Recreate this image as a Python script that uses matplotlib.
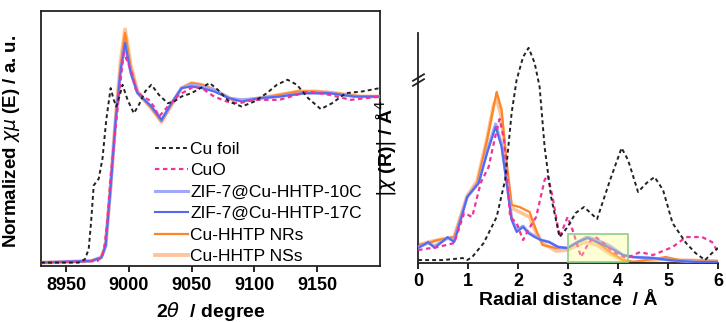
import matplotlib
matplotlib.use("Agg")
import matplotlib.pyplot as plt
from matplotlib.patches import Rectangle

plt.rcParams['font.family'] = ['Liberation Sans', 'DejaVu Sans']
plt.rcParams['mathtext.fontset'] = 'dejavusans'

# ---- XANES (left) ----
xanes_labels = ["Cu foil", "CuO", "ZIF-7@Cu-HHTP-10C", "ZIF-7@Cu-HHTP-17C",
                "Cu-HHTP NRs", "Cu-HHTP NSs"]

foil_e = [8930, 8960, 8965, 8968, 8970, 8972, 8976, 8979, 8982, 8985.5, 8988, 8990,
          8992.5, 8995, 8999, 9004, 9008, 9013, 9018, 9024, 9031, 9036, 9042, 9050,
          9057, 9064.5, 9071, 9080, 9090, 9100, 9110, 9118, 9126.5, 9134, 9143, 9153,
          9162, 9173, 9186, 9200]
foil_mu = [0.0, 0.0, 0.02, 0.08, 0.25, 0.46, 0.5, 0.62, 0.85, 1.04, 0.97, 0.93,
           0.99, 1.06, 0.97, 0.89, 0.94, 1.02, 1.06, 1.0, 0.95, 0.96, 0.99, 1.01,
           1.04, 1.07, 1.03, 0.96, 0.93, 0.96, 1.01, 1.06, 1.09, 1.06, 0.98, 0.915,
           0.95, 1.01, 1.02, 1.04]

cuo_e = [8930, 8975, 8979, 8981, 8983, 8985.5, 8989.5, 8993.5, 8996, 9001.6, 9005.6,
         9011, 9016, 9020, 9024, 9031, 9040, 9052, 9060, 9068, 9078, 9088, 9100,
         9120, 9143, 9160, 9177, 9200]
cuo_mu = [0.0, 0.01, 0.04, 0.12, 0.26, 0.51, 0.81, 1.09, 1.25, 1.15, 1.03,
          0.99, 0.97, 0.93, 0.87, 0.93, 1.0, 1.05, 1.03, 0.99, 0.96, 0.95, 0.97,
          0.97, 1.02, 1.0, 0.97, 0.99]

zif_e = [8930, 8970, 8978, 8981.5, 8985.5, 8989.5, 8993.5, 8997, 9001.6, 9007, 9011,
         9018, 9026, 9034, 9042, 9050, 9058, 9068, 9080, 9090, 9104, 9120, 9140,
         9160, 9180, 9200]
zif10_mu = [0.0, 0.01, 0.03, 0.1, 0.45, 0.85, 1.15, 1.30, 1.13, 1.01, 0.98,
            0.93, 0.85, 0.95, 1.04, 1.06, 1.05, 1.03, 0.98, 0.97, 0.98, 0.99, 1.01,
            1.01, 0.99, 0.99]
zif17_mu = [0.0, 0.01, 0.03, 0.1, 0.45, 0.85, 1.15, 1.31, 1.13, 1.01, 0.98,
            0.93, 0.85, 0.95, 1.04, 1.05, 1.04, 1.02, 0.98, 0.96, 0.98, 0.99, 1.01,
            1.01, 0.99, 0.99]

hhtp_e = [8930, 8970, 8978, 8981.5, 8985.5, 8989.5, 8993.5, 8997, 9001.6, 9007, 9011,
          9018, 9026, 9034, 9042, 9050, 9058, 9068, 9083, 9095, 9104, 9120, 9135,
          9150, 9165, 9185, 9200]
nrs_mu = [0.0, 0.01, 0.03, 0.1, 0.46, 0.86, 1.18, 1.37, 1.16, 1.02, 0.98,
          0.92, 0.84, 0.94, 1.04, 1.07, 1.06, 1.03, 0.97, 0.97, 0.98, 1.0, 1.02,
          1.02, 1.01, 0.99, 0.99]
nss_mu = [0.0, 0.01, 0.03, 0.1, 0.46, 0.86, 1.2, 1.39, 1.17, 1.02, 0.98,
          0.92, 0.84, 0.94, 1.04, 1.07, 1.06, 1.03, 0.97, 0.97, 0.98, 1.0, 1.02,
          1.02, 1.01, 0.99, 0.99]

# ---- FT-EXAFS (right) ----
foil_r = [0.0, 0.5, 0.89, 0.98, 1.08, 1.31, 1.57, 1.74, 1.87, 1.97, 2.1, 2.21, 2.33,
          2.43, 2.53, 2.66, 2.83, 2.99, 3.15, 3.32, 3.58, 3.84, 4.07, 4.2, 4.4, 4.57,
          4.73, 4.9, 5.09, 5.36, 5.55, 5.74, 5.88, 6.0]
foil_chi = [0.03, 0.03, 0.05, 0.03, 0.06, 0.2, 0.46, 0.83, 1.5, 1.83, 2.06, 2.15, 2.0,
            1.76, 1.16, 0.66, 0.26, 0.36, 0.5, 0.56, 0.44, 0.83, 1.15, 1.03, 0.71, 0.8,
            0.86, 0.73, 0.4, 0.2, 0.1, 0.03, 0.1, 0.15]

cuo_r = [0.0, 0.39, 0.72, 0.92, 1.08, 1.25, 1.41, 1.54, 1.63, 1.72, 1.84, 1.97, 2.1,
         2.2, 2.36, 2.53, 2.59, 2.69, 2.83, 2.99, 3.09, 3.26, 3.42, 3.55, 3.71, 3.9,
         4.17, 4.44, 4.7, 5.09, 5.36, 5.68, 5.88, 6.0]
cuo_chi = [0.13, 0.16, 0.2, 0.5, 0.46, 0.8, 0.96, 1.26, 1.44, 1.23, 0.46, 0.4, 0.23,
           0.33, 0.46, 0.83, 0.88, 0.66, 0.26, 0.46, 0.33, 0.06, 0.21, 0.26, 0.2, 0.11,
           0.05, 0.11, 0.08, 0.16, 0.26, 0.26, 0.21, 0.11]

zif_r = [0.0, 0.2, 0.33, 0.59, 0.72, 0.85, 0.98, 1.21, 1.38, 1.55, 1.67, 1.77, 1.87,
         1.97, 2.1, 2.2, 2.33, 2.46, 2.62, 2.8, 2.99, 3.19, 3.39, 3.58, 3.84, 4.1,
         4.3, 4.7, 5.03, 5.55, 6.0]
zif10_chi = [0.16, 0.2, 0.17, 0.25, 0.22, 0.44, 0.66, 0.8, 1.12, 1.39, 1.18, 0.82,
             0.45, 0.33, 0.37, 0.31, 0.27, 0.23, 0.21, 0.16, 0.15, 0.21, 0.26, 0.23,
             0.17, 0.08, 0.06, 0.05, 0.03, 0.01, 0.01]
zif17_chi = [0.15, 0.21, 0.15, 0.26, 0.21, 0.43, 0.66, 0.8, 1.1, 1.36, 1.16, 0.8,
             0.43, 0.31, 0.36, 0.3, 0.26, 0.23, 0.21, 0.16, 0.15, 0.21, 0.25, 0.21,
             0.15, 0.08, 0.06, 0.05, 0.03, 0.01, 0.01]

hhtp_r = [0.0, 0.2, 0.39, 0.72, 0.85, 0.98, 1.18, 1.38, 1.51, 1.57, 1.67, 1.77, 1.87,
          2.03, 2.23, 2.36, 2.49, 2.76, 2.99, 3.19, 3.36, 3.58, 3.84, 4.1, 4.3, 4.7,
          4.96, 5.22, 6.0]
nrs_chi = [0.18, 0.2, 0.23, 0.26, 0.46, 0.66, 0.8, 1.23, 1.56, 1.71, 1.53, 1.0, 0.58,
           0.56, 0.51, 0.33, 0.18, 0.15, 0.15, 0.21, 0.26, 0.21, 0.11, 0.03, 0.01,
           0.04, 0.06, 0.03, 0.02]
nss_chi = [0.18, 0.21, 0.23, 0.26, 0.47, 0.67, 0.82, 1.25, 1.58, 1.64, 1.45, 0.95, 0.55,
           0.51, 0.46, 0.3, 0.2, 0.12, 0.13, 0.18, 0.21, 0.18, 0.09, 0.03, 0.01,
           0.03, 0.04, 0.03, 0.02]

c_foil = "#222222"
c_cuo = "#f0339a"
c_z10 = "#9fa9f7"
c_z17 = "#5469f0"
c_nrs = "#ff8424"
c_nss = "#ffc49a"
dots = (0, (2.0, 1.6))

fig = plt.figure(figsize=(7.26, 3.22), dpi=100)
ax1 = fig.add_axes([0.0565, 0.174, 0.4665, 0.792])
ax2 = fig.add_axes([0.576, 0.183, 0.413, 0.715])

ax1.plot(foil_e, foil_mu, color=c_foil, lw=1.4, ls=dots, label=xanes_labels[0], zorder=5)
ax1.plot(cuo_e, cuo_mu, color=c_cuo, lw=1.6, ls=dots, label=xanes_labels[1], zorder=4)
ax1.plot(zif_e, zif10_mu, color=c_z10, lw=2.2, label=xanes_labels[2], zorder=3)
ax1.plot(zif_e, zif17_mu, color=c_z17, lw=1.5, label=xanes_labels[3], zorder=3)
ax1.plot(hhtp_e, nrs_mu, color=c_nrs, lw=1.6, label=xanes_labels[4], zorder=2)
ax1.plot(hhtp_e, nss_mu, color=c_nss, lw=2.8, label=xanes_labels[5], zorder=1)

ax1.set_xlim(8930, 9200)
ax1.set_ylim(-0.02, 1.5)
ax1.set_xticks([8950, 9000, 9050, 9100, 9150])
ax1.set_yticks([])
ax1.tick_params(axis='x', direction='out', length=4, width=1.2, labelsize=13, pad=4)
for lab in ax1.get_xticklabels():
    lab.set_fontweight('bold')
for s in ax1.spines.values():
    s.set_linewidth(1.3)
    s.set_color("#222222")
ax1.set_xlabel(r"2$\theta$  / degree", fontsize=14, fontweight='bold')
ax1.xaxis.set_label_coords(0.5, -0.135)
ax1.set_ylabel(r"Normalized $\chi\mu$ (E) / a. u.", fontsize=13.5, fontweight='bold')
ax1.yaxis.set_label_coords(-0.055, 0.49)
ax1.legend(loc='lower left', bbox_to_anchor=(0.305, -0.035), frameon=False, fontsize=12.5,
           handlelength=1.9, handletextpad=0.15, labelspacing=0.37, borderaxespad=0.2)

ax2.plot(foil_r, foil_chi, color=c_foil, lw=1.4, ls=dots, zorder=5)
ax2.plot(cuo_r, cuo_chi, color=c_cuo, lw=1.6, ls=dots, zorder=4)
ax2.plot(zif_r, zif10_chi, color=c_z10, lw=2.2, zorder=3)
ax2.plot(zif_r, zif17_chi, color=c_z17, lw=1.5, zorder=3)
ax2.plot(hhtp_r, nrs_chi, color=c_nrs, lw=1.6, zorder=2)
ax2.plot(hhtp_r, nss_chi, color=c_nss, lw=2.6, zorder=1)
ax2.add_patch(Rectangle((3.0, 0.01), 1.2, 0.28, facecolor=(1.0, 1.0, 0.55, 0.35),
                        edgecolor="#8ed08a", lw=1.2, zorder=6))

ax2.set_xlim(0, 6)
ax2.set_ylim(0, 2.3)
ax2.set_xticks(range(7))
ax2.set_yticks([])
ax2.spines['top'].set_visible(False)
ax2.spines['right'].set_visible(False)
for s in ['left', 'bottom']:
    ax2.spines[s].set_linewidth(1.3)
    ax2.spines[s].set_color("#222222")
ax2.tick_params(axis='x', direction='out', length=4, width=1.2, labelsize=13, pad=3)
for lab in ax2.get_xticklabels():
    lab.set_fontweight('bold')
# axis break marks
brk = dict(marker=[(-1, -0.6), (1, 0.6)], markersize=9, ls='none', color="#222222",
           mew=1.3, clip_on=False, transform=ax2.get_yaxis_transform())
ax2.plot([0, 0], [1.86, 1.81], **brk)
ax2.set_xlabel(r"Radial distance  / Å", fontsize=14, fontweight='bold')
ax2.xaxis.set_label_coords(0.5, -0.125)
ax2.set_ylabel(r"$|\chi$ (R)$|$ / Å$^4$", fontsize=14, fontweight='bold')
ax2.yaxis.set_label_coords(-0.065, 0.5)

fig.savefig("out.png", dpi=100)
